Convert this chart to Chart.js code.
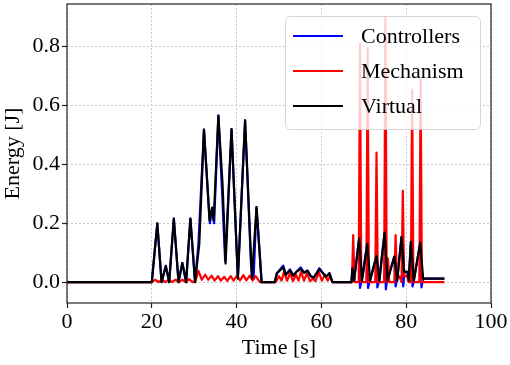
<!DOCTYPE html>
<html>
<head>
<meta charset="utf-8">
<script src="https://cdn.jsdelivr.net/npm/chart.js@4.4.1/dist/chart.umd.min.js"></script>
<style>
  body { margin: 0; background: #fff; }
  canvas { display: block; }
</style>
</head>
<body>
<canvas id="chart" width="510" height="365"></canvas>
<script>
// ticks
const xTicks = [0, 20, 40, 60, 80, 100];
const yTicks = [0, 0.2, 0.4, 0.6, 0.8];

// Virtual (black)
const virtT = [0, 20.0, 21.3, 22.3, 23.3, 24.1, 25.2, 26.3, 27.2, 28.1, 29.1, 30.2, 31.2, 32.3, 33.1, 33.6, 34.2, 34.6,
  35.7, 36.7, 37.4, 38.8, 40.3, 42.0, 43.6, 44.7, 45.9, 49.0, 49.5, 51.0, 51.6, 52.6, 53.4, 54.1, 55.1, 55.9, 56.7,
  57.5, 58.2, 59.5, 60.4, 61.1, 61.9, 62.6, 67.1, 67.3, 67.7, 68.9, 69.6, 70.8, 71.5, 73.0, 73.7, 74.9, 75.6, 77.2,
  77.9, 78.9, 79.5, 80.3, 80.6, 81.1, 81.8, 83.3, 84.0, 89.0];
const virtE = [0, 0, 0.20, 0, 0.055, 0, 0.216, 0, 0.065, 0, 0.216, 0, 0.13, 0.518, 0.335, 0.21, 0.253, 0.21,
  0.566, 0.33, 0.063, 0.52, 0.012, 0.55, 0.012, 0.255, 0, 0, 0.03, 0.05, 0.025, 0.04, 0.022, 0.035, 0.045, 0.032, 0.038,
  0.02, 0.015, 0.043, 0.03, 0.018, 0.03, 0, 0, 0.047, 0.005, 0.148, 0.005, 0.13, 0.005, 0.089, 0.005, 0.168, 0.005, 0.087,
  0.005, 0.154, 0.035, 0.035, 0.005, 0.137, 0.005, 0.134, 0.012, 0.012];

// Mechanism (red)
const mechT = [0, 20.0, 20.8, 21.6, 22.4, 23.2, 24.0, 24.8, 25.6, 26.4, 27.2, 28.0, 28.8, 29.6, 30.3, 31.0, 31.8,
  32.6, 33.3, 34.1, 34.8, 35.6, 36.3, 37.1, 37.8, 38.6, 39.3, 40.1, 40.8, 41.6, 42.3, 43.1, 43.8, 44.5, 45.5,
  49.2, 50.0, 50.6, 51.2, 51.9, 52.6, 53.3, 54.0, 54.6, 55.2, 55.9, 56.6, 57.3, 58.0, 58.6, 59.4, 60.1, 60.8, 61.5, 62.0, 62.6,
  67.2, 67.5, 67.8, 68.8, 69.1, 69.4, 70.6, 70.9, 71.2, 72.7, 73.0, 73.3, 74.8, 75.1, 75.4, 75.7, 76.0, 77.2, 77.5,
  77.8, 78.4, 78.9, 79.2, 79.5, 80.2, 80.6, 81.1, 81.4, 81.7, 83.1, 83.4, 83.7, 89.0];
const mechE = [0, 0, 0.008, 0, 0.008, 0, 0.008, 0, 0.008, 0, 0.008, 0, 0.01, 0, 0.004, 0.038, 0.008,
  0.025, 0.008, 0.022, 0.005, 0.02, 0.005, 0.018, 0.004, 0.02, 0.005, 0.022, 0.006, 0.024, 0.006, 0.022, 0.006, 0.02, 0,
  0, 0.02, 0.005, 0.035, 0.005, 0.03, 0.003, 0.025, 0.005, 0.035, 0.005, 0.03, 0.003, 0.012, 0.003, 0.033, 0.005, 0.025, 0.005, 0.02, 0,
  0, 0.16, 0, 0, 0.81, 0, 0, 0.794, 0, 0, 0.44, 0, 0, 0.90, 0, 0.08, 0, 0, 0.16,
  0.01, 0.02, 0, 0.31, 0.02, 0.02, 0, 0, 0.654, 0, 0, 0.688, 0, 0];

// Controllers (blue)
const ctrlT = [0, 20.0, 21.3, 22.3, 23.3, 24.1, 25.2, 26.3, 27.2, 28.1, 29.1, 30.2, 31.0, 32.3, 33.1, 33.7, 34.2, 34.7,
  35.7, 36.6, 37.3, 38.8, 40.3, 42.0, 43.4, 43.7, 44.0, 44.7, 45.9, 49.0, 49.5, 51.0, 51.6, 52.6, 53.4, 54.1, 55.1, 55.9, 56.7,
  57.5, 58.2, 59.5, 60.4, 61.1, 61.9, 62.6, 67.1, 67.3, 67.7, 68.9, 69.1, 69.5, 70.8, 71.0, 71.4, 73.0, 73.2, 73.6,
  74.9, 75.2, 75.5, 77.2, 77.5, 77.8, 78.9, 79.3, 79.6, 80.3, 80.6, 81.1, 81.5, 81.8, 83.3, 83.6, 84.0, 89.0];
const ctrlE = [0, 0, 0.20, 0, 0.055, 0, 0.216, 0, 0.065, 0, 0.216, 0, 0.13, 0.518, 0.33, 0.2, 0.245, 0.2,
  0.566, 0.3, 0.07, 0.52, 0.012, 0.55, 0.06, 0.02, 0.01, 0.255, 0, 0, 0.03, 0.056, 0.025, 0.043, 0.022, 0.035, 0.05, 0.032, 0.04,
  0.02, 0.015, 0.047, 0.03, 0.018, 0.03, 0, 0, 0.047, 0.005, 0.148, -0.02, 0.005, 0.13, -0.02, 0.005, 0.089, -0.018, 0.005,
  0.168, -0.025, 0.005, 0.087, -0.015, 0.005, 0.154, -0.015, 0.035, 0.035, 0.005, 0.137, -0.015, 0.005, 0.134, -0.018, 0.012, 0.012];

const seriesNames = ["Controllers", "Mechanism", "Virtual"];
const seriesColors = ["#0000ff", "#ff0000", "#000000"];

const FONT = "'Liberation Serif', 'DejaVu Serif', serif";
const pts = (ts, es) => ts.map((t, i) => ({ x: t, y: es[i] }));

function lineSet(i, ts, es, order) {
  return {
    label: seriesNames[i],
    data: pts(ts, es),
    borderColor: seriesColors[i],
    backgroundColor: seriesColors[i],
    borderWidth: 2.2,
    pointRadius: 0,
    tension: 0,
    fill: false,
    borderJoinStyle: "round",
    order: order,
  };
}

// frame + legend box drawn over the lines, like matplotlib
const overlay = {
  id: "overlay",
  afterDatasetsDraw(chart) {
    const { ctx, chartArea: a } = chart;
    ctx.save();
    ctx.strokeStyle = "#222";
    ctx.lineWidth = 1.2;
    ctx.strokeRect(a.left, a.top, a.right - a.left, a.bottom - a.top);

    const bx = 285, by = 16, bw = 195, bh = 113, r = 5;
    ctx.beginPath();
    ctx.roundRect(bx + 0.5, by + 0.5, bw, bh, r);
    ctx.fillStyle = "rgba(255,255,255,0.8)";
    ctx.fill();
    ctx.strokeStyle = "rgba(204,204,204,0.8)";
    ctx.lineWidth = 1;
    ctx.stroke();

    ctx.font = "22px " + FONT;
    ctx.textBaseline = "middle";
    ctx.fillStyle = "#000";
    seriesNames.forEach((name, i) => {
      const y = 36 + i * 35;
      ctx.beginPath();
      ctx.moveTo(293, y);
      ctx.lineTo(343, y);
      ctx.strokeStyle = seriesColors[i];
      ctx.lineWidth = 2;
      ctx.stroke();
      ctx.fillText(name, 361, y + 1);
    });
    ctx.restore();
  },
};

const tickFont = { family: FONT, size: 22 };

new Chart(document.getElementById("chart"), {
  type: "line",
  data: {
    datasets: [
      lineSet(0, ctrlT, ctrlE, 3),
      lineSet(1, mechT, mechE, 2),
      lineSet(2, virtT, virtE, 1),
    ],
  },
  options: {
    responsive: false,
    animation: false,
    devicePixelRatio: 1,
    layout: { padding: { top: 4, right: 19, left: 0, bottom: 0 } },
    plugins: { legend: { display: false }, tooltip: { enabled: false } },
    scales: {
      x: {
        type: "linear",
        min: 0,
        max: 100,
        afterBuildTicks: s => { s.ticks = xTicks.map(v => ({ value: v })); },
        afterFit: s => { s.height = 62; s.paddingLeft = 0; s.paddingRight = 0; },
        ticks: { font: tickFont, color: "#000", padding: 1, maxRotation: 0, callback: v => String(v) },
        grid: { color: "#c8c8c8", lineWidth: 1, tickColor: "#222", tickLength: 5, tickWidth: 1.2 },
        border: { display: false, dash: [2, 2] },
        title: { display: true, text: "Time [s]", font: tickFont, color: "#000", padding: { top: 0, bottom: 4 } },
      },
      y: {
        type: "linear",
        min: -0.071,
        max: 0.945,
        afterBuildTicks: s => { s.ticks = yTicks.map(v => ({ value: v })); },
        afterFit: s => { s.width = 67; s.paddingTop = 0; s.paddingBottom = 0; },
        ticks: { font: tickFont, color: "#000", padding: 2, callback: v => v.toFixed(1) },
        grid: { color: "#c8c8c8", lineWidth: 1, tickColor: "#222", tickLength: 5, tickWidth: 1.2 },
        border: { display: false, dash: [2, 2] },
        title: { display: true, text: "Energy [J]", font: tickFont, color: "#000", padding: { top: 0, bottom: 0 } },
      },
    },
  },
  plugins: [overlay],
});
</script>
</body>
</html>
